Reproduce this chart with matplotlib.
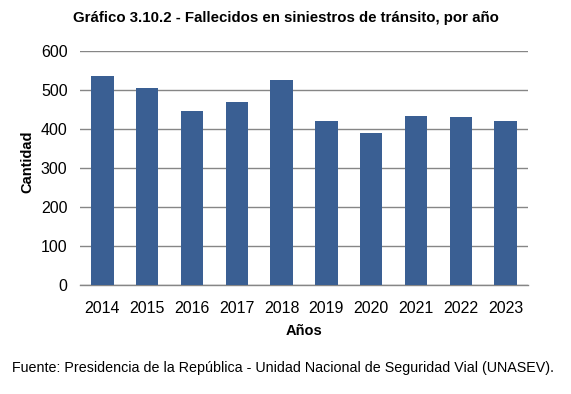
import matplotlib
matplotlib.use("Agg")
import matplotlib.pyplot as plt

plt.rcParams['font.family'] = ['Liberation Sans', 'DejaVu Sans']

years = ["2014", "2015", "2016", "2017", "2018", "2019", "2020", "2021", "2022", "2023"]
deaths = [537, 506, 448, 471, 527, 422, 391, 434, 431, 422]
yticks = [0, 100, 200, 300, 400, 500, 600]

fig = plt.figure(figsize=(5.71, 3.94), dpi=100)
ax = fig.add_axes([80/571, 1-285.3/394, 448/571, 234/394])

x = list(range(len(years)))
ax.bar(x, deaths, width=0.5, color="#3A5F93", zorder=3)
ax.set_xlim(-0.5, len(years) - 0.5)
ax.set_ylim(0, 600)
ax.set_yticks(yticks)
ax.set_xticks(x)
ax.set_xticklabels(years)
ax.yaxis.grid(True, color="#868686", linewidth=1.0, zorder=0)
for s in ["left", "right", "top"]:
    ax.spines[s].set_visible(False)
ax.spines["bottom"].set_color("#868686")
ax.spines["bottom"].set_linewidth(1.0)
ax.tick_params(axis="both", length=0, labelsize=11.5, colors="black")
ax.tick_params(axis="y", pad=9)
ax.tick_params(axis="x", pad=11)

ax.set_xlabel("Años", fontsize=10.5, fontweight="bold", labelpad=6)
ax.set_ylabel("Cantidad", fontsize=10.5, fontweight="bold")
ax.yaxis.set_label_coords(-(80 - 34) / 448, (285.3 - 162) / 234)

fig.text(0.5, 1 - 18/394, "Gráfico 3.10.2 - Fallecidos en siniestros de tránsito, por año",
         ha="center", va="center", fontsize=10.8, fontweight="bold")
fig.text(12/571, 1 - 368/394, "Fuente: Presidencia de la República - Unidad Nacional de Seguridad Vial (UNASEV).",
         ha="left", va="center", fontsize=10.25)

fig.savefig("out.png", dpi=100)
